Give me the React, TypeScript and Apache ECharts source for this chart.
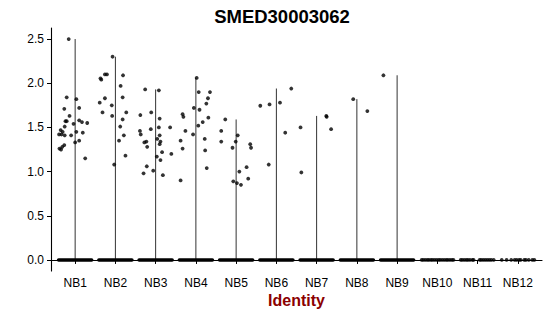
import React, { useEffect, useRef } from "react";
import * as echarts from "echarts";

const title = "SMED30003062";
const xTitle = "Identity";
const categories = ["NB1", "NB2", "NB3", "NB4", "NB5", "NB6", "NB7", "NB8", "NB9", "NB10", "NB11", "NB12"];
const yTicks = [0, 0.5, 1, 1.5, 2, 2.5];

// non-zero expression cells per identity: [jitter offset, expression]
const NB1 = [[-0.16, 2.5], [-0.21, 1.84], [0.03, 1.82], [-0.27, 1.71], [0.1, 1.72], [-0.14, 1.63], [-0.24, 1.57], [-0.21, 1.57], [0.1, 1.58], [0.17, 1.56], [0.3, 1.55], [-0.04, 1.54], [-0.26, 1.51], [-0.36, 1.47], [-0.31, 1.45], [0.03, 1.45], [0.19, 1.44], [-0.4, 1.42], [-0.34, 1.42], [-0.26, 1.41], [-0.1, 1.41], [0.1, 1.35], [0.0, 1.33], [-0.27, 1.3], [-0.32, 1.28], [-0.39, 1.26], [-0.35, 1.25], [0.25, 1.15]];
const NB2 = [[-0.07, 2.3], [-0.26, 2.1], [-0.21, 2.1], [-0.37, 2.055], [-0.35, 2.04], [0.19, 2.09], [0.13, 1.97], [0.18, 1.84], [-0.26, 1.83], [-0.39, 1.78], [-0.09, 1.75], [-0.32, 1.67], [0.27, 1.67], [-0.08, 1.63], [0.18, 1.59], [0.12, 1.51], [0.21, 1.41], [0.09, 1.35], [0.25, 1.18], [-0.03, 1.08]];
const NB3 = [[-0.26, 1.93], [0.08, 1.92], [-0.11, 1.67], [-0.38, 1.64], [0.1, 1.6], [0.08, 1.5], [0.36, 1.5], [-0.12, 1.48], [-0.39, 1.46], [-0.37, 1.42], [0.1, 1.41], [0.04, 1.37], [0.12, 1.34], [-0.23, 1.34], [-0.28, 1.33], [0.1, 1.31], [-0.21, 1.28], [0.16, 1.22], [0.39, 1.2], [0.03, 1.17], [0.12, 1.13], [-0.22, 1.06], [-0.06, 1.01], [-0.3, 0.98], [0.18, 0.96]];
const NB4 = [[0.02, 2.06], [0.07, 1.9], [0.35, 1.9], [0.3, 1.83], [0.26, 1.77], [-0.05, 1.72], [0.09, 1.7], [-0.33, 1.65], [-0.31, 1.62], [0.31, 1.61], [0.17, 1.56], [0.06, 1.52], [-0.26, 1.46], [-0.07, 1.42], [0.22, 1.37], [-0.38, 1.35], [-0.33, 1.26], [0.23, 1.24], [0.27, 1.04], [-0.38, 0.9]];
const NB5 = [[-0.27, 1.59], [-0.37, 1.46], [0.04, 1.41], [-0.37, 1.34], [-0.01, 1.34], [0.35, 1.31], [0.37, 1.27], [-0.09, 1.27], [0.26, 1.05], [0.08, 1.0], [0.3, 0.92], [-0.07, 0.89], [0.02, 0.87], [0.12, 0.85]];
const NB6 = [[-0.4, 1.745], [-0.17, 1.76], [0.09, 1.78], [0.37, 1.94], [0.22, 1.44], [-0.19, 1.08]];
const NB7 = [[-0.4, 1.5], [-0.38, 0.99], [0.24, 1.63], [0.25, 1.62], [0.36, 1.48]];
const NB8 = [[-0.09, 1.82], [0.26, 1.685]];
const NB9 = [[-0.34, 2.09]];
const NB10: number[][] = [];
const NB11: number[][] = [];
const NB12: number[][] = [];
const expressed = [NB1, NB2, NB3, NB4, NB5, NB6, NB7, NB8, NB9, NB10, NB11, NB12];

// zero-expression cells: dense groups are a solid jitter band, sparse groups listed
const denseZero = [true, true, true, true, true, true, true, true, true, false, false, false];
const zeroJitterWidth = 0.41;
const NB10zero = [-0.39, -0.35, -0.3, -0.25, -0.21, -0.16, -0.12, -0.07, -0.02, 0.03, 0.07, 0.12, 0.17, 0.22, 0.26, 0.31, 0.36, 0.4];
const NB11zero = [-0.42, -0.38, -0.33, -0.28, -0.24, -0.19, -0.13, -0.1, 0.05, 0.09, 0.14, 0.19, 0.24, 0.29, 0.34, 0.4];
const NB12zero = [-0.4, -0.28, -0.165, -0.08, -0.03, 0.03, 0.07, 0.16, 0.2, 0.27, 0.36, 0.41];
const sparseZero: Record<number, number[]> = { 9: NB10zero, 10: NB11zero, 11: NB12zero };

const FONT = "Liberation Sans, Arial, sans-serif";

export default function App() {
  const ref = useRef<HTMLDivElement>(null);
  useEffect(() => {
    document.body.style.margin = "0";
    const chart = echarts.init(ref.current!, null, { renderer: "svg" });

    const points: number[][] = [];
    expressed.forEach((arr, i) => arr.forEach(([j, v]) => points.push([i + 1 + j, v])));
    Object.keys(sparseZero).forEach((k) => {
      const i = Number(k);
      sparseZero[i].forEach((j) => points.push([i + 1 + j, 0]));
    });
    const violinData = expressed.map((arr, i) => [i + 1, arr.length ? Math.max(...arr.map((p) => p[1])) : 0]);
    const bandData = denseZero.map((d, i) => (d ? [i + 1, 0] : null)).filter(Boolean) as number[][];

    chart.setOption({
      animation: false,
      grid: { left: 51, right: 8, top: 28, bottom: 45 },
      xAxis: {
        type: "value",
        min: 0.4,
        max: 12.6,
        axisLine: { show: true, lineStyle: { color: "#000", width: 1.1 } },
        axisTick: { show: true, length: 4, lineStyle: { color: "#000" }, customValues: categories.map((_, i) => i + 1) },
        axisLabel: {
          customValues: categories.map((_, i) => i + 1),
          formatter: (v: number) => categories[Math.round(v) - 1],
          color: "#000",
          fontSize: 12,
          fontFamily: FONT,
          margin: 6,
        },
        splitLine: { show: false },
      },
      yAxis: {
        type: "value",
        min: -0.125,
        max: 2.625,
        axisLine: { show: true, lineStyle: { color: "#000", width: 1.1 } },
        axisTick: { show: true, length: 4, lineStyle: { color: "#000" }, customValues: yTicks },
        axisLabel: {
          customValues: yTicks,
          formatter: (v: number) => v.toFixed(1),
          color: "#000",
          fontSize: 12,
          fontFamily: FONT,
          margin: 7,
        },
        splitLine: { show: false },
      },
      graphic: [
        { type: "text", x: 282, y: 16, style: { text: title, fontFamily: FONT, fontSize: 18.5, fontWeight: "bold", fill: "#000", textAlign: "center", textVerticalAlign: "middle" } },
        { type: "text", x: 296.5, y: 300, style: { text: xTitle, fontFamily: FONT, fontSize: 16, fontWeight: "bold", fill: "#8B0000", textAlign: "center", textVerticalAlign: "middle" } },
      ],
      series: [
        {
          type: "custom",
          data: violinData,
          renderItem: (params: any, api: any) => {
            const x = api.value(0);
            const top = api.coord([x, api.value(1)]);
            const bottom = api.coord([x, 0]);
            return { type: "line", shape: { x1: top[0], y1: top[1], x2: bottom[0], y2: bottom[1] }, style: { stroke: "#333", lineWidth: 1 } };
          },
          z: 1,
        },
        {
          type: "custom",
          data: bandData,
          renderItem: (params: any, api: any) => {
            const x = api.value(0);
            const a = api.coord([x - zeroJitterWidth, 0]);
            const b = api.coord([x + zeroJitterWidth, 0]);
            return { type: "line", shape: { x1: a[0], y1: a[1], x2: b[0], y2: b[1] }, style: { stroke: "#000", lineWidth: 3.6, lineCap: "round" } };
          },
          z: 3,
        },
        {
          type: "scatter",
          data: points,
          symbol: "circle",
          symbolSize: 3.8,
          itemStyle: { color: "#000" },
          z: 4,
        },
      ],
    });
    return () => chart.dispose();
  }, []);
  return <div ref={ref} style={{ position: "absolute", left: 0, top: 0, width: 550, height: 316 }} />;
}
